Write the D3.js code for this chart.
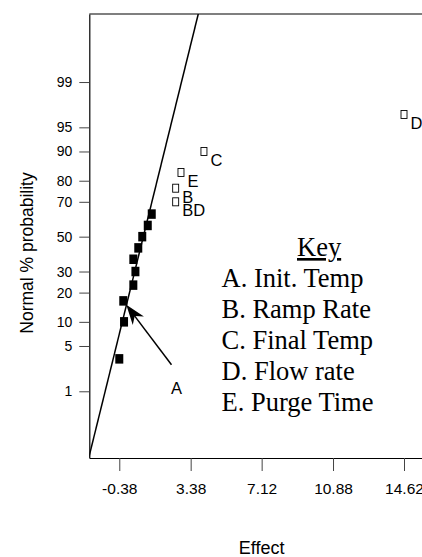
<!DOCTYPE html>
<html>
<head>
<meta charset="utf-8">
<script src="https://cdn.jsdelivr.net/npm/d3@7"></script>
<style>
  body { margin: 0; background: #fff; }
  text { font-family: "Liberation Sans", Arial, sans-serif; fill: #000; }
</style>
</head>
<body>
<svg id="chart"></svg>
<script>
// effects in rank order, and the normal % probability each one sits at
var effects = [-0.38, -0.13, -0.17, 0.36, 0.47, 0.36, 0.62, 0.83, 1.12, 1.33, 2.59, 2.59, 2.87, 4.08, 14.62];
var probs = [3.3, 10, 16.7, 23.3, 30, 36.7, 43.3, 50, 56.7, 63.3, 70, 76.7, 83.3, 90, 96.7];
var labels = ["", "", "", "", "", "", "", "", "", "", "BD", "B", "E", "C", "D"];

var xTicks = [-0.38, 3.38, 7.12, 10.88, 14.62];
var yTicks = [1, 5, 10, 20, 30, 50, 70, 80, 90, 95, 99];

var keyTitle = "Key";
var keyItems = ["A. Init. Temp", "B. Ramp Rate", "C. Final Temp", "D. Flow rate", "E. Purge Time"];

// the straight reference line (effect = mean + sd * z)
var fitMean = 0.886, fitSd = 0.864;

// inverse normal cdf (Acklam)
function probit(p) {
  var a = [-3.969683028665376e+01, 2.209460984245205e+02, -2.759285104469687e+02, 1.383577518672690e+02, -3.066479806614716e+01, 2.506628277459239e+00];
  var b = [-5.447609879822406e+01, 1.615858368580409e+02, -1.556989798598866e+02, 6.680131188771972e+01, -1.328068155288572e+01];
  var c = [-7.784894002430293e-03, -3.223964580411365e-01, -2.400758277161838e+00, -2.549732539343734e+00, 4.374664141464968e+00, 2.938163982698783e+00];
  var d = [7.784695709041462e-03, 3.224671290700398e-01, 2.445134137142996e+00, 3.754408661907416e+00];
  var pl = 0.02425, q, r;
  if (p < pl) {
    q = Math.sqrt(-2 * Math.log(p));
    return (((((c[0]*q+c[1])*q+c[2])*q+c[3])*q+c[4])*q+c[5]) / ((((d[0]*q+d[1])*q+d[2])*q+d[3])*q+1);
  }
  if (p > 1 - pl) {
    q = Math.sqrt(-2 * Math.log(1 - p));
    return -(((((c[0]*q+c[1])*q+c[2])*q+c[3])*q+c[4])*q+c[5]) / ((((d[0]*q+d[1])*q+d[2])*q+d[3])*q+1);
  }
  q = p - 0.5; r = q * q;
  return (((((a[0]*r+a[1])*r+a[2])*r+a[3])*r+a[4])*r+a[5])*q / (((((b[0]*r+b[1])*r+b[2])*r+b[3])*r+b[4])*r+1);
}

var width = 422, height = 557;
var plotLeft = 89.3, plotRight = 434, plotTop = 14, plotBottom = 458;

var svg = d3.select('#chart')
  .attr('width', width)
  .attr('height', height);

var x = d3.scaleLinear().domain([-1.96, 16.2]).range([plotLeft, plotRight]);
// y is linear in z, probabilities go through probit
var z = d3.scaleLinear().domain([-3.33, 3.35]).range([plotBottom, plotTop]);
function y(p) { return z(probit(p / 100)); }

svg.append('clipPath').attr('id', 'plot')
  .append('rect')
    .attr('x', plotLeft).attr('y', plotTop)
    .attr('width', plotRight - plotLeft).attr('height', plotBottom - plotTop);

// Axes
var yAxis = d3.axisLeft(z)
  .tickValues(yTicks.map(function(p){ return probit(p / 100); }))
  .tickFormat(function(d, i){ return yTicks[i]; })
  .tickSize(10)
  .tickSizeOuter(0)
  .tickPadding(7);

var gy = svg.append('g')
  .attr('transform', 'translate(' + plotLeft + ',0)')
  .call(yAxis);
gy.selectAll('text').style('font-size', '14px').style('font-family', '"Liberation Sans", Arial, sans-serif');
gy.selectAll('line').attr('stroke', '#444');
gy.select('.domain').attr('stroke', '#000').attr('stroke-width', 1.2);

var xAxis = d3.axisBottom(x)
  .tickValues(xTicks)
  .tickFormat(function(d){ return d.toFixed(2); })
  .tickSize(13)
  .tickSizeOuter(0)
  .tickPadding(12);

var gx = svg.append('g')
  .attr('transform', 'translate(0,' + plotBottom + ')')
  .call(xAxis);
gx.selectAll('text').style('font-size', '15.5px').style('font-family', '"Liberation Sans", Arial, sans-serif');
gx.selectAll('line').attr('stroke', '#444');
gx.select('.domain').attr('stroke', '#000').attr('stroke-width', 1.2);

// top border
svg.append('line')
  .attr('x1', plotLeft).attr('x2', plotRight)
  .attr('y1', plotTop).attr('y2', plotTop)
  .attr('stroke', '#000')
  .attr('stroke-width', 1.2);

// Axis titles
svg.append('text')
  .attr('transform', 'translate(33,253) rotate(-90)')
  .attr('text-anchor', 'middle')
  .style('font-size', '17.5px')
  .text('Normal % probability');

svg.append('text')
  .attr('x', (plotLeft + plotRight) / 2)
  .attr('y', 554)
  .attr('text-anchor', 'middle')
  .style('font-size', '18px')
  .text('Effect');

// Reference line
var zEnds = z.domain();
svg.append('line')
  .attr('clip-path', 'url(#plot)')
  .attr('x1', x(fitMean + fitSd * zEnds[0])).attr('y1', z(zEnds[0]))
  .attr('x2', x(fitMean + fitSd * zEnds[1])).attr('y2', z(zEnds[1]))
  .attr('stroke', '#000')
  .attr('stroke-width', 1.5);

// Points
var pts = effects.map(function(e, i){ return {effect: e, prob: probs[i], label: labels[i]}; });

svg.selectAll('rect.pt')
  .data(pts)
  .enter().append('rect')
    .attr('class', 'pt')
    .attr('width', function(d){ return d.label ? 6 : 8; })
    .attr('height', function(d){ return d.label ? 8 : 9.5; })
    .attr('x', function(d){ return x(d.effect) - (d.label ? 3 : 4); })
    .attr('y', function(d){ return y(d.prob) - (d.label ? 4 : 4.75); })
    .attr('fill', function(d){ return d.label ? '#fff' : '#000'; })
    .attr('stroke', function(d){ return d.label ? '#000' : 'none'; })
    .attr('stroke-width', 0.9);

svg.selectAll('text.pt')
  .data(pts.filter(function(d){ return d.label; }))
  .enter().append('text')
    .attr('class', 'pt')
    .attr('x', function(d){ return x(d.effect) + 6.5; })
    .attr('y', function(d){ return y(d.prob) + 14.5; })
    .style('font-size', '16.5px')
    .text(function(d){ return d.label; });

// Arrow pointing at factor A
var arrowFrom = {effect: 2.37, prob: 2.7};
var arrowTo = {effect: -0.17, prob: 16.7};
var ax1 = x(arrowFrom.effect), ay1 = y(arrowFrom.prob);
var ax2 = x(arrowTo.effect), ay2 = y(arrowTo.prob);
var ang = Math.atan2(ay2 - ay1, ax2 - ax1);
var len = Math.hypot(ax2 - ax1, ay2 - ay1) - 5;
var tipX = ax1 + Math.cos(ang) * len, tipY = ay1 + Math.sin(ang) * len;

svg.append('line')
  .attr('x1', ax1).attr('y1', ay1)
  .attr('x2', tipX - Math.cos(ang) * 10).attr('y2', tipY - Math.sin(ang) * 10)
  .attr('stroke', '#000')
  .attr('stroke-width', 1.5);

function pt(along, across) {
  return [tipX - Math.cos(ang) * along - Math.sin(ang) * across,
          tipY - Math.sin(ang) * along + Math.cos(ang) * across];
}
svg.append('path')
  .attr('d', d3.line()([pt(0, 0), pt(20, 7), pt(14, 0), pt(20, -7)]) + 'Z')
  .attr('fill', '#000');

svg.append('text')
  .attr('x', ax1 + 5)
  .attr('y', ay1 + 29)
  .attr('text-anchor', 'middle')
  .style('font-size', '16.5px')
  .text('A');

// Key
var key = svg.append('g');

key.append('text')
  .attr('x', 297).attr('y', 256)
  .style('font-family', '"Liberation Serif", "Times New Roman", serif')
  .style('font-size', '26.5px')
  .style('text-decoration', 'underline')
  .text(keyTitle);

key.selectAll('text.item')
  .data(keyItems)
  .enter().append('text')
    .attr('class', 'item')
    .attr('x', 221.5)
    .attr('y', function(d, i){ return 287 + i * 31; })
    .style('font-family', '"Liberation Serif", "Times New Roman", serif')
    .style('font-size', '26.5px')
    .text(function(d){ return d; });
</script>
</body>
</html>
